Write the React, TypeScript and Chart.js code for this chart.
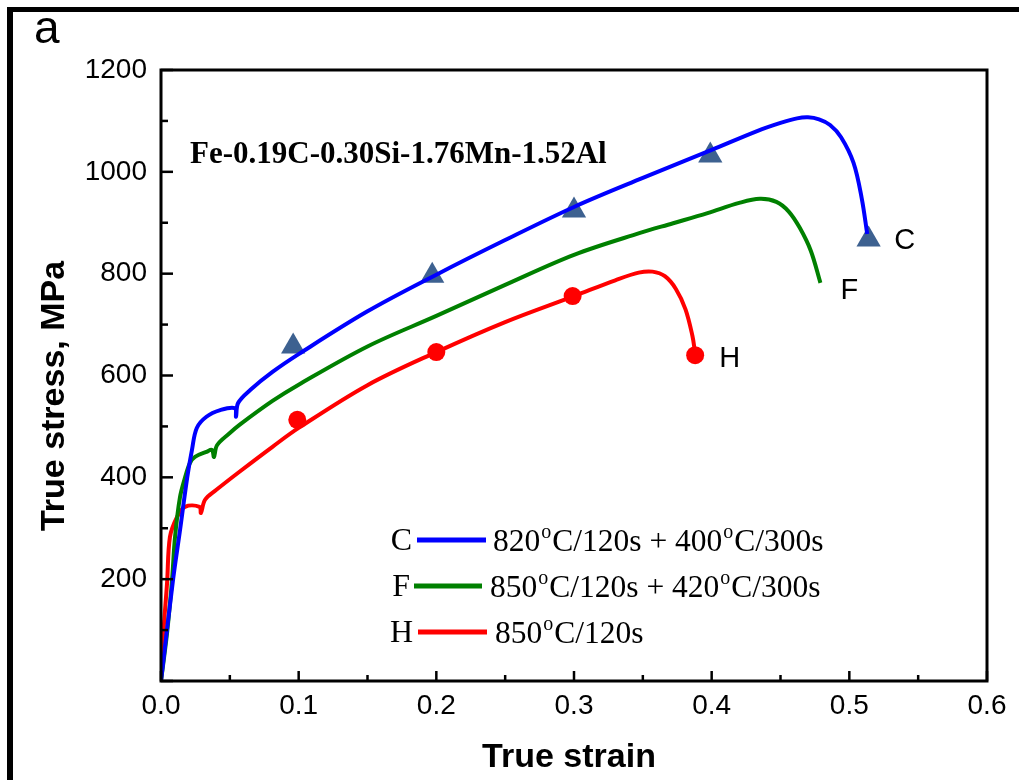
import React, { useEffect, useRef } from "react";
import { Chart, registerables } from "chart.js";

Chart.register(...registerables);

// ---------- data ----------
const strainC = [0, 0.0087, 0.0138, 0.019, 0.0225, 0.026, 0.033, 0.043, 0.0535, 0.0545, 0.056, 0.065, 0.081, 0.1, 0.15, 0.2, 0.25, 0.3, 0.35, 0.4, 0.433, 0.45, 0.462, 0.47, 0.478, 0.486, 0.494, 0.503, 0.509, 0.513];
const stressC = [0, 198, 296, 399, 454, 497, 519, 532, 536, 519, 546, 572, 607, 642, 726, 798, 866, 931, 988, 1043, 1080, 1096, 1105, 1107, 1103, 1092, 1068, 1018, 948, 878];

const strainF = [0, 0.0044, 0.008, 0.0102, 0.0138, 0.0174, 0.021, 0.0247, 0.033, 0.037, 0.0385, 0.0407, 0.05, 0.057, 0.081, 0.1, 0.15, 0.2, 0.25, 0.3, 0.348, 0.372, 0.397, 0.42, 0.435, 0.447, 0.456, 0.464, 0.472, 0.479];
const stressF = [0, 94, 198, 283, 361, 399, 428, 440, 450, 454, 440, 463, 487, 503, 550, 582, 657, 717, 778, 837, 880, 899, 919, 939, 947, 941, 922, 890, 845, 782];

const strainH = [0, 0.0017, 0.0044, 0.0065, 0.0116, 0.0174, 0.028, 0.029, 0.032, 0.04, 0.057, 0.081, 0.1, 0.15, 0.2, 0.25, 0.3, 0.33, 0.347, 0.357, 0.366, 0.374, 0.381, 0.386, 0.388];
const stressH = [0, 94, 192, 283, 322, 342, 342, 330, 356, 375, 411, 460, 497, 581, 646, 705, 756, 787, 802, 804, 795, 770, 730, 678, 644];

const markStrainC = [0.096, 0.197, 0.3, 0.399, 0.514];
const markStressC = [657, 796, 924, 1032, 867];
const markStrainH = [0.099, 0.2, 0.299, 0.388];
const markStressH = [513, 646, 756, 640];

const xTickValues = [0, 0.1, 0.2, 0.3, 0.4, 0.5, 0.6];
const yTickValues = [200, 400, 600, 800, 1000, 1200];

const seriesKeys = ["C", "F", "H"];
const seriesNames = ["820°C/120s + 400°C/300s", "850°C/120s + 420°C/300s", "850°C/120s"];
const seriesColors = ["#0000ff", "#008000", "#ff0000"];
const endLabels = ["C", "F", "H"];

const alloyText = "Fe-0.19C-0.30Si-1.76Mn-1.52Al";
const xTitle = "True strain";
const yTitle = "True stress, MPa";
const panelLetter = "a";

const SANS = "'Liberation Sans', Arial, sans-serif";
const SERIF = "'Liberation Serif', 'Times New Roman', serif";

function pts(xs: number[], ys: number[]) {
  return xs.map((x, i) => ({ x, y: ys[i] }));
}

function drawSuperText(ctx: CanvasRenderingContext2D, text: string, x: number, y: number, size: number) {
  const parts = text.split("°");
  let cx = x;
  parts.forEach((p, i) => {
    ctx.font = `${size}px ${SERIF}`;
    ctx.fillText(p, cx, y);
    cx += ctx.measureText(p).width;
    if (i < parts.length - 1) {
      ctx.font = `${Math.round(size * 0.62)}px ${SERIF}`;
      ctx.fillText("o", cx + 1, y - size * 0.42);
      cx += ctx.measureText("o").width + 2;
    }
  });
}

const overlay = {
  id: "overlay",
  afterDatasetsDraw(chart: any) {
    const { ctx, chartArea: a, scales } = chart;
    const xs = scales.x;
    const ys = scales.y;
    ctx.save();
    // page frame bars
    ctx.fillStyle = "#000";
    ctx.fillRect(7, 7, 1019 - 7, 5);
    ctx.fillRect(7, 7, 6, 780 - 7);

    // plot frame
    ctx.strokeStyle = "#000";
    ctx.lineWidth = 3;
    ctx.strokeRect(a.left, a.top, a.right - a.left, a.bottom - a.top);

    // x ticks (inward)
    ctx.lineWidth = 2.5;
    for (let i = 0; i <= 12; i++) {
      const v = i * 0.05;
      const px = xs.getPixelForValue(v);
      const len = i % 2 === 0 ? 10 : 6;
      ctx.beginPath();
      ctx.moveTo(px, a.bottom);
      ctx.lineTo(px, a.bottom - len);
      ctx.stroke();
    }
    // y ticks (inward)
    for (let i = 0; i <= 12; i++) {
      const v = i * 100;
      const py = ys.getPixelForValue(v);
      const len = i % 2 === 0 ? 12 : 7;
      ctx.beginPath();
      ctx.moveTo(a.left, py);
      ctx.lineTo(a.left + len, py);
      ctx.stroke();
    }

    ctx.fillStyle = "#000";
    // axis titles
    ctx.font = `bold 34px ${SANS}`;
    ctx.textAlign = "center";
    ctx.textBaseline = "alphabetic";
    ctx.fillText(xTitle, (a.left + a.right) / 2 - 5, 767);
    ctx.save();
    ctx.translate(64, 396);
    ctx.rotate(-Math.PI / 2);
    ctx.fillText(yTitle, 0, 0);
    ctx.restore();

    // panel letter
    ctx.textAlign = "left";
    ctx.font = `46px ${SANS}`;
    ctx.fillText(panelLetter, 34, 43);

    // alloy annotation
    ctx.font = `bold 31px ${SERIF}`;
    ctx.fillText(alloyText, 190, 163);

    // end labels
    ctx.font = `29px ${SANS}`;
    const endPos = [
      [xs.getPixelForValue(strainC[strainC.length - 1]) + 27, ys.getPixelForValue(stressC[stressC.length - 1]) + 15],
      [xs.getPixelForValue(strainF[strainF.length - 1]) + 20, ys.getPixelForValue(stressF[stressF.length - 1]) + 16],
      [xs.getPixelForValue(strainH[strainH.length - 1]) + 24, ys.getPixelForValue(stressH[stressH.length - 1]) + 14],
    ];
    endLabels.forEach((t, i) => ctx.fillText(t, endPos[i][0], endPos[i][1]));

    // legend
    const rowY = [540, 586, 632];
    const keyRight = [412, 410, 413];
    const lineX = [[417, 486], [414, 482], [418, 487]];
    const textX = [493, 490, 495];
    seriesKeys.forEach((k, i) => {
      ctx.font = `32px ${SERIF}`;
      ctx.textAlign = "right";
      ctx.fillStyle = "#000";
      ctx.fillText(k, keyRight[i], rowY[i] + 10);
      ctx.strokeStyle = seriesColors[i];
      ctx.lineWidth = 5;
      ctx.beginPath();
      ctx.moveTo(lineX[i][0], rowY[i]);
      ctx.lineTo(lineX[i][1], rowY[i]);
      ctx.stroke();
      ctx.textAlign = "left";
      drawSuperText(ctx, seriesNames[i], textX[i], rowY[i] + 11, 31.5);
    });
    ctx.restore();
  },
};

export default function App() {
  const ref = useRef<HTMLCanvasElement | null>(null);
  useEffect(() => {
    document.body.style.margin = "0";
    const canvas = ref.current;
    if (!canvas) return;
    const lineDs = (xs: number[], ys: number[], color: string) => ({
      data: pts(xs, ys),
      borderColor: color,
      backgroundColor: color,
      borderWidth: 4,
      pointRadius: 0,
      fill: false,
      tension: 0.35,
      showLine: true,
    });
    const chart = new Chart(canvas, {
      type: "scatter",
      data: {
        datasets: [
          lineDs(strainC, stressC, seriesColors[0]),
          lineDs(strainF, stressF, seriesColors[1]),
          lineDs(strainH, stressH, seriesColors[2]),
          {
            data: pts(markStrainC, markStressC),
            pointStyle: "triangle",
            pointRadius: 14,
            pointBackgroundColor: "#3d6190",
            pointBorderWidth: 0,
            showLine: false,
          } as any,
          {
            data: pts(markStrainH, markStressH),
            pointStyle: "circle",
            pointRadius: 9,
            pointBackgroundColor: "#ff0000",
            pointBorderWidth: 0,
            showLine: false,
          } as any,
        ],
      },
      options: {
        responsive: false,
        animation: false,
        layout: { padding: { left: 0, right: 32, top: 70, bottom: 0 } },
        plugins: { legend: { display: false }, tooltip: { enabled: false } },
        scales: {
          x: {
            type: "linear",
            min: 0,
            max: 0.6,
            afterFit: (s: any) => { s.height = 99; },
            afterBuildTicks: (s: any) => { s.ticks = xTickValues.map((v) => ({ value: v })); },
            ticks: {
              callback: (v: any) => Number(v).toFixed(1),
              font: { family: SANS, size: 28 },
              color: "#000",
              padding: 8,
              maxRotation: 0,
              autoSkip: false,
            },
            grid: { display: false, drawTicks: false },
            border: { display: false },
          },
          y: {
            type: "linear",
            min: 0,
            max: 1200,
            afterFit: (s: any) => { s.width = 161; },
            afterBuildTicks: (s: any) => { s.ticks = yTickValues.map((v) => ({ value: v })); },
            ticks: {
              callback: (v: any) => String(v),
              font: { family: SANS, size: 28 },
              color: "#000",
              padding: 14,
              autoSkip: false,
            },
            grid: { display: false, drawTicks: false },
            border: { display: false },
          },
        },
      },
      plugins: [overlay],
    });
    return () => chart.destroy();
  }, []);
  return <canvas ref={ref} width={1019} height={780} style={{ display: "block" }} />;
}
